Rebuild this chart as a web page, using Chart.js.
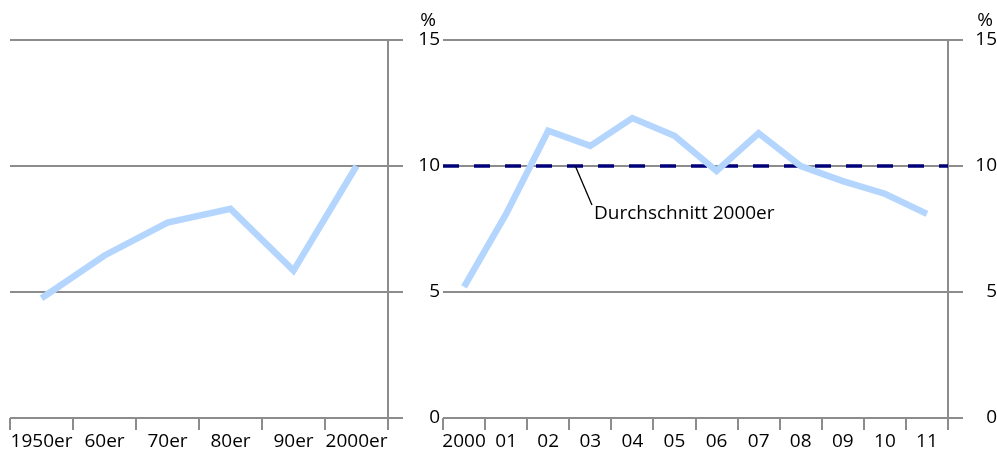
<!DOCTYPE html>
<html><head><meta charset="utf-8">
<script src="https://cdn.jsdelivr.net/npm/chart.js@4/dist/chart.umd.min.js"></script>
<style>
html,body{margin:0;padding:0;background:#fff;width:997px;height:450px;overflow:hidden}
.box{position:absolute;top:0;height:450px}
#b1{left:0;width:440px}
#b2{left:433px;width:564px}
canvas{display:block}
</style></head><body>
<div class="box" id="b1"><canvas id="c1" width="440" height="450"></canvas></div>
<div class="box" id="b2"><canvas id="c2" width="564" height="450"></canvas></div>
<script>
// ---- data ----
const decadeLabels = ['1950er','60er','70er','80er','90er','2000er'];
const decadeValues = [4.75, 6.45, 7.75, 8.3, 5.85, 10.0];
const yearLabels = ['2000','01','02','03','04','05','06','07','08','09','10','11'];
const yearValues = [5.2, 8.1, 11.4, 10.8, 11.9, 11.2, 9.8, 11.3, 10.0, 9.4, 8.9, 8.1];
const average2000s = 10.0;
const yTicks = [0, 5, 10, 15];
const unitLabel = '%';
const averageLabel = 'Durchschnitt 2000er';

// ---- style ----
const FONT = "'Open Sans', 'Noto Sans', sans-serif";
const FSIZE = 19;
const GRID = '#8c8c8c';
const BLUE = '#b4d6fe';
const NAVY = '#00007a';

function yAxis(width) {
  return {
    position: 'right', min: 0, max: 15,
    afterBuildTicks: s => { s.ticks = yTicks.map(v => ({ value: v })); },
    grid: { color: GRID, lineWidth: 2, drawTicks: true, tickLength: 15, tickColor: GRID },
    border: { display: true, color: GRID, width: 2 },
    ticks: { crossAlign: 'far', padding: 5, color: '#000', font: { family: FONT, size: FSIZE } },
    afterFit: s => { s.width = width; }
  };
}
function xAxis() {
  return {
    type: 'category', offset: true,
    grid: { offset: true, drawOnChartArea: false, drawTicks: true, tickLength: 12, color: GRID, lineWidth: 2 },
    border: { display: false },
    ticks: { autoSkip: false, maxRotation: 0, minRotation: 0, padding: 0, color: '#000', font: { family: FONT, size: FSIZE } },
    afterFit: s => { s.height = 32; }
  };
}
const unitPlugin = {
  id: 'unit',
  afterDraw(chart) {
    const y = chart.scales.y, ctx = chart.ctx;
    ctx.save();
    ctx.font = FSIZE + 'px ' + FONT;
    ctx.fillStyle = '#000';
    ctx.textAlign = 'right';
    ctx.textBaseline = 'middle';
    ctx.fillText(unitLabel, y.right - 4, chart.chartArea.top - 19);
    ctx.restore();
  }
};
const annotationPlugin = {
  id: 'avgNote',
  afterDatasetsDraw(chart) {
    const x2 = chart.scales.x2, y = chart.scales.y, ctx = chart.ctx;
    const ax = x2.getPixelForValue(0.262), ay = y.getPixelForValue(average2000s);
    const bx = x2.getPixelForValue(0.295), by = y.getPixelForValue(8.45);
    ctx.save();
    ctx.strokeStyle = '#000';
    ctx.lineWidth = 1.3;
    ctx.beginPath(); ctx.moveTo(ax, ay); ctx.lineTo(bx, by); ctx.stroke();
    ctx.font = FSIZE + 'px ' + FONT;
    ctx.fillStyle = '#000';
    ctx.textAlign = 'left';
    ctx.textBaseline = 'middle';
    ctx.fillText(averageLabel, bx + 2, y.getPixelForValue(8.1));
    ctx.restore();
  }
};
const common = {
  responsive: false, animation: false, events: [],
  plugins: { legend: { display: false }, tooltip: { enabled: false } },
  elements: { point: { radius: 0 }, line: { tension: 0 } }
};

new Chart(document.getElementById('c1'), {
  type: 'line',
  data: { labels: decadeLabels, datasets: [{
    data: decadeValues, borderColor: BLUE, borderWidth: 6.5, borderCapStyle: 'butt', borderJoinStyle: 'miter', fill: false
  }]},
  options: Object.assign({}, common, {
    layout: { padding: { left: 10, top: 40, right: 0, bottom: 0 } },
    scales: { x: xAxis(), y: yAxis(52) }
  }),
  plugins: [unitPlugin]
});

new Chart(document.getElementById('c2'), {
  type: 'line',
  data: { labels: yearLabels, datasets: [
    { data: yearValues, xAxisID: 'x', order: 0, borderColor: BLUE, borderWidth: 6.5, borderCapStyle: 'butt', borderJoinStyle: 'miter', fill: false },
    { data: [{ x: 0, y: average2000s }, { x: 1, y: average2000s }], xAxisID: 'x2', order: 1,
      borderColor: NAVY, borderWidth: 3.5, borderDash: [16, 15], borderCapStyle: 'butt', fill: false }
  ]},
  options: Object.assign({}, common, {
    layout: { padding: { left: 10, top: 40, right: 0, bottom: 0 } },
    scales: {
      x: xAxis(),
      x2: { type: 'linear', min: 0, max: 1, display: false },
      y: yAxis(49)
    }
  }),
  plugins: [unitPlugin, annotationPlugin]
});
</script>
</body></html>
